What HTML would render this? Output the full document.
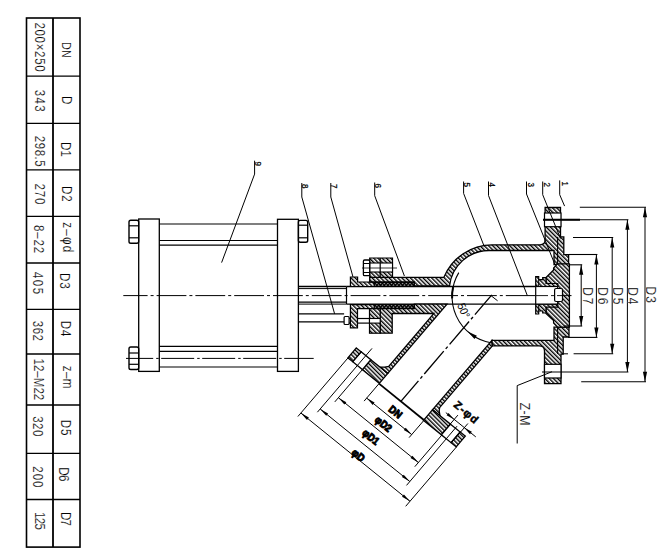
<!DOCTYPE html>
<html><head><meta charset="utf-8"><style>
html,body{margin:0;padding:0;background:#fff;width:670px;height:555px;overflow:hidden}
svg{display:block}
text{font-family:"Liberation Sans",sans-serif}
</style></head><body>
<svg width="670" height="555" viewBox="0 0 670 555">
<defs>
<pattern id="h45" patternUnits="userSpaceOnUse" width="3" height="3" patternTransform="rotate(-45)">
<rect width="3" height="3" fill="#fff"/><rect x="0" y="0" width="1.4" height="3" fill="#000"/></pattern>
<pattern id="pk" patternUnits="userSpaceOnUse" width="2.6" height="2.6" patternTransform="rotate(45)">
<rect width="2.6" height="2.6" fill="#000"/><rect x="0.9" y="0.9" width="1.1" height="1.1" fill="#fff"/></pattern>
</defs>
<rect width="670" height="555" fill="#fff"/>
<g stroke="#000">
<rect x="26.5" y="18" width="53.5" height="529.1" fill="none" stroke-width="1.6"/>
<line x1="53" y1="18" x2="53" y2="547.1" stroke-width="1.8"/>
<line x1="26.5" y1="76.2" x2="80" y2="76.2" stroke-width="1.3"/>
<line x1="26.5" y1="123.3" x2="80" y2="123.3" stroke-width="1.3"/>
<line x1="26.5" y1="169.9" x2="80" y2="169.9" stroke-width="1.3"/>
<line x1="26.5" y1="216.4" x2="80" y2="216.4" stroke-width="1.3"/>
<line x1="26.5" y1="263" x2="80" y2="263" stroke-width="1.3"/>
<line x1="26.5" y1="309.3" x2="80" y2="309.3" stroke-width="1.3"/>
<line x1="26.5" y1="354" x2="80" y2="354" stroke-width="1.3"/>
<line x1="26.5" y1="405" x2="80" y2="405" stroke-width="1.3"/>
<line x1="26.5" y1="453.3" x2="80" y2="453.3" stroke-width="1.3"/>
<line x1="26.5" y1="499.5" x2="80" y2="499.5" stroke-width="1.3"/>
</g>
<g fill="#000" font-family="Liberation Sans, sans-serif">
<text transform="translate(34.7,22.4) rotate(90) scale(0.8,1)" font-size="14.3" textLength="61.6" lengthAdjust="spacing" stroke="#fff" stroke-width="0.18">200×250</text>
<text transform="translate(35.2,89.8) rotate(90) scale(0.8,1)" font-size="14.3" textLength="27.4" lengthAdjust="spacing" stroke="#fff" stroke-width="0.18">343</text>
<text transform="translate(35,135.8) rotate(90) scale(0.8,1)" font-size="14.3" textLength="38.6" lengthAdjust="spacing" stroke="#fff" stroke-width="0.18">298.5</text>
<text transform="translate(35,183.4) rotate(90) scale(0.8,1)" font-size="14.3" textLength="26.2" lengthAdjust="spacing" stroke="#fff" stroke-width="0.18">270</text>
<text transform="translate(34.3,224.9) rotate(90) scale(0.8,1)" font-size="14.3" textLength="35.2" lengthAdjust="spacing" stroke="#fff" stroke-width="0.18">8–22</text>
<text transform="translate(32.8,272.1) rotate(90) scale(0.8,1)" font-size="14.3" textLength="27.4" lengthAdjust="spacing" stroke="#fff" stroke-width="0.18">405</text>
<text transform="translate(33,320.8) rotate(90) scale(0.8,1)" font-size="14.3" textLength="25.1" lengthAdjust="spacing" stroke="#fff" stroke-width="0.18">362</text>
<text transform="translate(34.3,358.5) rotate(90) scale(0.8,1)" font-size="14.3" textLength="52.1" lengthAdjust="spacing" stroke="#fff" stroke-width="0.18">12–M22</text>
<text transform="translate(33,416.2) rotate(90) scale(0.8,1)" font-size="14.3" textLength="25.1" lengthAdjust="spacing" stroke="#fff" stroke-width="0.18">320</text>
<text transform="translate(33,466.3) rotate(90) scale(0.8,1)" font-size="14.3" textLength="26.3" lengthAdjust="spacing" stroke="#fff" stroke-width="0.18">200</text>
<text transform="translate(35,511.9) rotate(90) scale(0.8,1)" font-size="14.3" textLength="22.5" lengthAdjust="spacing" stroke="#fff" stroke-width="0.18">125</text>
<text transform="translate(61.7,41.9) rotate(90) scale(0.8,1)" font-size="13.5" textLength="19.8" lengthAdjust="spacing" stroke="#fff" stroke-width="0.18">DN</text>
<text transform="translate(61.7,96.1) rotate(90) scale(0.8,1)" font-size="14.5" textLength="11.6" lengthAdjust="spacing" stroke="#fff" stroke-width="0.18">D</text>
<text transform="translate(61.4,142.1) rotate(90) scale(0.8,1)" font-size="14.5" textLength="18.3" lengthAdjust="spacing" stroke="#fff" stroke-width="0.18">D1</text>
<text transform="translate(62.4,186.1) rotate(90) scale(0.8,1)" font-size="14.5" textLength="19.5" lengthAdjust="spacing" stroke="#fff" stroke-width="0.18">D2</text>
<text transform="translate(62.9,222.2) rotate(90) scale(0.8,1)" font-size="14.5" textLength="37.5" lengthAdjust="spacing" stroke="#fff" stroke-width="0.18">z–φd</text>
<text transform="translate(59.9,273) rotate(90) scale(0.8,1)" font-size="14.5" textLength="19.6" lengthAdjust="spacing" stroke="#fff" stroke-width="0.18">D3</text>
<text transform="translate(60.8,320.8) rotate(90) scale(0.8,1)" font-size="14.5" textLength="19.5" lengthAdjust="spacing" stroke="#fff" stroke-width="0.18">D4</text>
<text transform="translate(63.4,365.7) rotate(90) scale(0.8,1)" font-size="14.5" textLength="28.5" lengthAdjust="spacing" stroke="#fff" stroke-width="0.18">z–m</text>
<text transform="translate(61,419.8) rotate(90) scale(0.8,1)" font-size="14.5" textLength="19.5" lengthAdjust="spacing" stroke="#fff" stroke-width="0.18">D5</text>
<text transform="translate(59.1,467.3) rotate(90) scale(0.8,1)" font-size="14.5" textLength="17.6" lengthAdjust="spacing" stroke="#fff" stroke-width="0.18">D6</text>
<text transform="translate(60.5,511.9) rotate(90) scale(0.8,1)" font-size="14.5" textLength="17.6" lengthAdjust="spacing" stroke="#fff" stroke-width="0.18">D7</text>
</g>
<g stroke="#000" fill="none" stroke-linecap="butt">
<line x1="123.3" y1="295.6" x2="571.5" y2="295.6" stroke-width="1.0" stroke-dasharray="29.8,3,3,3" stroke-dashoffset="5.5"/>
<line x1="126" y1="358.4" x2="313.7" y2="358.4" stroke-width="1.0" stroke-dasharray="33,3,2.5,2.5" stroke-dashoffset="5.8"/>
<rect x="138.7" y="219" width="20.6" height="152.4" fill="none" stroke-width="1.3"/>
<rect x="277.5" y="219.3" width="20.9" height="152.1" fill="none" stroke-width="1.3"/>
<line x1="159.3" y1="224" x2="277.5" y2="224" stroke-width="1.2"/>
<line x1="159.3" y1="240.5" x2="277.5" y2="240.5" stroke-width="1.2"/>
<line x1="159.3" y1="245.2" x2="277.5" y2="245.2" stroke-width="1.2"/>
<line x1="159.3" y1="346.3" x2="277.5" y2="346.3" stroke-width="1.2"/>
<line x1="159.3" y1="351.3" x2="277.5" y2="351.3" stroke-width="1.2"/>
<line x1="159.3" y1="367" x2="277.5" y2="367" stroke-width="1.2"/>
<rect x="129" y="220.2" width="9.7" height="23" fill="none" stroke-width="1.4" rx="1.8"/>
<line x1="129" y1="225.8" x2="138.7" y2="225.8" stroke-width="1.2"/>
<line x1="129" y1="237.8" x2="138.7" y2="237.8" stroke-width="1.2"/>
<rect x="298.4" y="220.4" width="9.3" height="21.9" fill="none" stroke-width="1.4" rx="1.8"/>
<line x1="298.4" y1="225.2" x2="307.7" y2="225.2" stroke-width="1.2"/>
<line x1="298.4" y1="237.8" x2="307.7" y2="237.8" stroke-width="1.2"/>
<rect x="129" y="347" width="9.7" height="22.5" fill="none" stroke-width="1.4" rx="1.8"/>
<line x1="129" y1="353" x2="138.7" y2="353" stroke-width="1.2"/>
<line x1="129" y1="364.3" x2="138.7" y2="364.3" stroke-width="1.2"/>
<line x1="298.4" y1="286.5" x2="346.5" y2="286.5" stroke-width="1.4"/>
<line x1="298.4" y1="288.6" x2="346.5" y2="288.6" stroke-width="1.0"/>
<line x1="298.4" y1="302.1" x2="346.5" y2="302.1" stroke-width="1.4"/>
<line x1="298.4" y1="304.1" x2="346.5" y2="304.1" stroke-width="1.0"/>
<line x1="346.5" y1="286.5" x2="346.5" y2="304.1" stroke-width="1.2"/>
<line x1="298.4" y1="313.8" x2="344.1" y2="313.8" stroke-width="1.3"/>
<line x1="298.4" y1="321.9" x2="344.1" y2="321.9" stroke-width="1.3"/>
<rect x="344.1" y="316.5" width="5" height="8" fill="none" stroke-width="1.2" rx="1"/>
<line x1="349" y1="318.5" x2="380.2" y2="318.5" stroke-width="1.2"/>
<line x1="349" y1="323.1" x2="380.2" y2="323.1" stroke-width="1.2"/>
<line x1="346.5" y1="286.5" x2="554.7" y2="286.5" stroke-width="1.3"/>
<line x1="346.5" y1="304.1" x2="554.7" y2="304.1" stroke-width="1.3"/>
</g>
<g stroke="#000" stroke-linejoin="miter">
<polygon points="350.4,277 357.6,277 357.6,282 374.3,282 374.3,286.5 350.4,286.5" fill="url(#h45)" stroke-width="1.2"/>
<polygon points="350.4,304.6 374.3,304.6 374.3,308.7 357.5,308.7 357.5,327.9 350.4,327.9" fill="url(#h45)" stroke-width="1.2"/>
<rect x="374.3" y="282" width="40" height="4.5" fill="url(#pk)" stroke-width="1.0"/>
<rect x="374.3" y="304.6" width="40" height="4.1" fill="url(#pk)" stroke-width="1.0"/>
<path d="M369.7,277.3 L443.9,277.3 A52.3,52.3 0 0 1 492.3,244.8 L540,244.8 Q545.1,244.8 545.1,239.5 L545.1,207.5 L560.5,207.5 L560.5,236.9 L563.8,236.9 L563.8,254.7 L568.6,254.7 L568.6,264.5 L554,264.5 L554,250.5 L489,250.5 A39.7,39.7 0 0 0 449.6,285.8 L414.3,285.8 L414.3,282 L369.7,282 Z" fill="url(#h45)" stroke-width="1.3"/>
<rect x="544.5" y="213" width="16.5" height="13.7" fill="#fff" stroke-width="1.2"/>
<polygon points="369.7,258 392.5,258 392.5,277.3 369.7,277.3" fill="url(#h45)" stroke-width="1.2"/>
<rect x="369.7" y="263" width="22.8" height="9" fill="#fff" stroke-width="1.1"/>
<rect x="363.4" y="260" width="6.3" height="15.7" fill="#fff" stroke-width="1.3" rx="1.2"/>
<line x1="363.4" y1="263.5" x2="369.7" y2="263.5" stroke-width="1.0"/>
<line x1="363.4" y1="272.5" x2="369.7" y2="272.5" stroke-width="1.0"/>
<line x1="380.2" y1="258" x2="380.2" y2="277.3" stroke-width="1.2"/>
<line x1="362" y1="268" x2="397" y2="268" stroke-width="0.8"/>
<polygon points="380.2,308.7 414.3,308.7 414.3,304.1 447,304.1 387.8,373.4 380.2,367.2 384.8,367.1 388.7,366.4 433.9,313.5 392.2,313.5 392.2,333.2 380.2,333.2" fill="url(#h45)" stroke-width="1.3"/>
<rect x="369.5" y="308.7" width="10.7" height="24.5" fill="url(#h45)" stroke-width="1.2"/>
<rect x="369.5" y="318.5" width="10.7" height="4.6" fill="#fff" stroke-width="1.1"/>
<polygon points="370.8,359.7 387.8,373.4 379.3,383.3 362.4,369.6" fill="url(#h45)" stroke-width="1.3"/>
<polygon points="361.1,351.8 370.8,359.7 362.4,369.6 352.7,361.7" fill="#fff" stroke-width="1.3"/>
<polygon points="356.3,347.9 361.1,351.8 352.7,361.7 347.9,357.8" fill="url(#h45)" stroke-width="1.3"/>
<polygon points="491.9,340.3 432.6,409.7 440,415.7 439.2,411.2 439.6,407.7 492.4,345.9" fill="url(#h45)" stroke-width="1.3"/>
<polygon points="432.6,409.7 450.5,424.2 441.4,434.8 423.5,420.3" fill="url(#h45)" stroke-width="1.3"/>
<polygon points="450.5,424.2 460.2,432 451.1,442.7 441.4,434.8" fill="#fff" stroke-width="1.3"/>
<polygon points="460.2,432 465.3,436.1 456.2,446.8 451.1,442.7" fill="url(#h45)" stroke-width="1.3"/>
<path d="M491.9,340.3 L554,340.3 L554,327.2 L569,327.2 L569,337 L563.2,337 L563.2,354.2 L561,354.2 L561,383.7 L544.5,383.7 L544.5,351 Q544.5,345.9 539,345.9 L492.4,345.9 Z" fill="url(#h45)" stroke-width="1.3"/>
<rect x="544.5" y="364.3" width="16.5" height="13.7" fill="#fff" stroke-width="1.2"/>
<line x1="557.6" y1="237" x2="557.6" y2="263.8" stroke-width="1.1"/>
<line x1="557.6" y1="327.2" x2="557.6" y2="354" stroke-width="1.1"/>
<polygon points="557.5,263.8 569.4,263.8 569.4,327.1 557.5,327.1 553.6,323 553.6,320.5 546,313.5 546,277.5 553.6,270 553.6,268" fill="url(#h45)" stroke-width="1.3"/>
<polygon points="535.7,276.6 538.7,276.6 538.7,279.6 542.7,279.6 542.7,277.6 546,277.6 546,283.5 557.8,283.5 557.8,286.5 535.7,286.5" fill="url(#h45)" stroke-width="1.2"/>
<line x1="538.7" y1="279.6" x2="538.7" y2="286.5" stroke-width="1.0"/>
<polygon points="535.7,314 538.7,314 538.7,311 542.7,311 542.7,313 546,313 546,307.1 557.8,307.1 557.8,304.1 535.7,304.1" fill="url(#h45)" stroke-width="1.2"/>
<line x1="538.7" y1="311" x2="538.7" y2="304.1" stroke-width="1.0"/>
<rect x="535.7" y="286.5" width="22" height="17.6" fill="#fff" stroke-width="1.2"/>
<rect x="554.6" y="288.5" width="7.9" height="13" fill="#fff" stroke-width="1.2" rx="1.5"/>
<line x1="536" y1="295.6" x2="571.5" y2="295.6" stroke-width="0.9" stroke-dasharray="12,3,3,3"/>
</g>
<g stroke="#000" fill="none">
<line x1="491.8" y1="294.9" x2="400.9" y2="401.4" stroke-width="1.35" stroke-dasharray="30,3,3,3" stroke-dashoffset="4"/>
<line x1="491.2" y1="295.8" x2="497.6" y2="300.8" stroke-width="1.0"/>
<path d="M458.8,272.6 A46.8,46.8 0 0 0 490.8,342.8" stroke-width="1.1"/>
<path d="M453.1,287 A46.8,46.8 0 0 0 452.1,298.4" stroke-width="2"/>
</g><g fill="#000" stroke="none">
<polygon points="467.6,331.5 474.5,339 476.9,335.8" fill="#000" stroke-width="0.5"/>
</g><g stroke="#000" fill="none">
<line x1="348" y1="357.9" x2="297.9" y2="416.5" stroke-width="1.0"/>
<line x1="372" y1="348.4" x2="317.4" y2="412.2" stroke-width="1.0"/>
<line x1="362.4" y1="369.6" x2="334.8" y2="401.9" stroke-width="1.0"/>
<line x1="379.3" y1="383.3" x2="364.1" y2="401.1" stroke-width="1.0"/>
<line x1="456.4" y1="447" x2="405.7" y2="506.3" stroke-width="1.0"/>
<line x1="457" y1="426.2" x2="406.5" y2="485.4" stroke-width="1.0"/>
<line x1="441.8" y1="435.1" x2="414.8" y2="466.7" stroke-width="1.0"/>
<line x1="423.8" y1="420.5" x2="409.1" y2="437.6" stroke-width="1.0"/>
<line x1="300.9" y1="413" x2="410" y2="501.3" stroke-width="1.0"/>
<line x1="320.2" y1="409" x2="409.8" y2="481.5" stroke-width="1.0"/>
<line x1="338.4" y1="397.7" x2="418.4" y2="462.5" stroke-width="1.0"/>
<line x1="366.7" y1="398.1" x2="411.7" y2="434.6" stroke-width="1.0"/>
</g>
<g fill="#000" stroke="none">
<polygon points="300.9,413 307,419.9 308.9,417.5" fill="#000" stroke-width="0.5"/>
<polygon points="410,501.3 403.9,494.5 402,496.8" fill="#000" stroke-width="0.5"/>
<polygon points="320.2,409 326.2,415.8 328.1,413.5" fill="#000" stroke-width="0.5"/>
<polygon points="409.8,481.5 403.7,474.7 401.9,477" fill="#000" stroke-width="0.5"/>
<polygon points="338.4,397.7 344.4,404.5 346.3,402.2" fill="#000" stroke-width="0.5"/>
<polygon points="418.4,462.5 412.4,455.7 410.5,458" fill="#000" stroke-width="0.5"/>
<polygon points="366.7,398.1 372.7,404.9 374.6,402.6" fill="#000" stroke-width="0.5"/>
<polygon points="411.7,434.6 405.7,427.8 403.8,430.1" fill="#000" stroke-width="0.5"/>
</g>
<g stroke="#000" fill="none">
<line x1="457.9" y1="415.1" x2="441.2" y2="434.6" stroke-width="1.0"/>
<line x1="467.9" y1="423.5" x2="451.3" y2="442.9" stroke-width="1.0"/>
<line x1="445.8" y1="412.6" x2="475.8" y2="436.9" stroke-width="1.0"/>
</g>
<g fill="#000" stroke="none">
<polygon points="454.2,419.4 448.5,412.9 446.6,415.2" fill="#000" stroke-width="0.5"/>
<polygon points="464.3,427.7 470,434.2 471.9,431.8" fill="#000" stroke-width="0.5"/>
</g>
<g stroke="#000" fill="none">
<line x1="379" y1="383.6" x2="423.9" y2="420" stroke-width="1.8"/>
</g>
<g fill="#000" stroke="#000" stroke-width="1" font-family="Liberation Serif, serif">
<text transform="translate(395.7,411.6) rotate(39)" font-size="10.5" font-weight="bold" text-anchor="middle" dominant-baseline="central" textLength="13.7" lengthAdjust="spacingAndGlyphs">DN</text>
<text transform="translate(383.7,423.7) rotate(39)" font-size="10.5" font-weight="bold" text-anchor="middle" dominant-baseline="central" textLength="18.3" lengthAdjust="spacingAndGlyphs">φD2</text>
<text transform="translate(371,436.7) rotate(39)" font-size="10.5" font-weight="bold" text-anchor="middle" dominant-baseline="central" textLength="18.3" lengthAdjust="spacingAndGlyphs">φD1</text>
<text transform="translate(358.5,455) rotate(39)" font-size="10.5" font-weight="bold" text-anchor="middle" dominant-baseline="central" textLength="13.7" lengthAdjust="spacingAndGlyphs">φD</text>
</g><g fill="#000" stroke="#000" stroke-width="0.5" font-family="Liberation Serif, serif">
<text transform="translate(466.3,411.9) rotate(40)" font-size="11" font-weight="bold" text-anchor="middle" dominant-baseline="central" textLength="28" lengthAdjust="spacing">Z-φd</text>
</g>
<g fill="#000" font-family="Liberation Sans, sans-serif">
<text transform="translate(463.7,310.6) rotate(67)" font-size="11.5" font-weight="normal" text-anchor="middle" dominant-baseline="central" textLength="15" lengthAdjust="spacingAndGlyphs">50°</text>
</g>
<g stroke="#000" fill="none">
<line x1="645" y1="207.3" x2="645" y2="381.7" stroke-width="1.0"/>
<line x1="579.8" y1="207.3" x2="646" y2="207.3" stroke-width="1.1"/>
<line x1="581.2" y1="381.7" x2="646" y2="381.7" stroke-width="1.1"/>
<line x1="627.4" y1="219.8" x2="627.4" y2="372" stroke-width="1.0"/>
<line x1="543" y1="219.8" x2="628.4" y2="219.8" stroke-width="1.1"/>
<line x1="542" y1="372" x2="628.4" y2="372" stroke-width="1.1"/>
<line x1="612.2" y1="237.5" x2="612.2" y2="353.8" stroke-width="1.0"/>
<line x1="573" y1="237.5" x2="613.2" y2="237.5" stroke-width="1.1"/>
<line x1="573.6" y1="353.8" x2="613.2" y2="353.8" stroke-width="1.1"/>
<line x1="596.4" y1="254.5" x2="596.4" y2="337.4" stroke-width="1.0"/>
<line x1="569" y1="254.5" x2="597.4" y2="254.5" stroke-width="1.1"/>
<line x1="568" y1="337.4" x2="597.4" y2="337.4" stroke-width="1.1"/>
<line x1="581.2" y1="264.8" x2="581.2" y2="326" stroke-width="1.0"/>
<line x1="569" y1="264.8" x2="582.2" y2="264.8" stroke-width="1.1"/>
<line x1="564" y1="326" x2="582.2" y2="326" stroke-width="1.1"/>
<line x1="562" y1="353.8" x2="568" y2="353.8" stroke-width="1.0"/>
<line x1="543" y1="219.8" x2="580" y2="219.8" stroke-width="1.9"/>
</g>
<g fill="#000" stroke="none">
<polygon points="645,207.3 642.9,217.3 647.1,217.3" fill="#000" stroke-width="0.5"/>
<polygon points="645,381.7 647.1,371.7 642.9,371.7" fill="#000" stroke-width="0.5"/>
<polygon points="627.4,219.8 625.3,229.8 629.5,229.8" fill="#000" stroke-width="0.5"/>
<polygon points="627.4,372 629.5,362 625.3,362" fill="#000" stroke-width="0.5"/>
<polygon points="612.2,237.5 610.1,247.5 614.3,247.5" fill="#000" stroke-width="0.5"/>
<polygon points="612.2,353.8 614.3,343.8 610.1,343.8" fill="#000" stroke-width="0.5"/>
<polygon points="596.4,254.5 594.3,264.5 598.5,264.5" fill="#000" stroke-width="0.5"/>
<polygon points="596.4,337.4 598.5,327.4 594.3,327.4" fill="#000" stroke-width="0.5"/>
<polygon points="581.2,264.8 579.1,274.8 583.3,274.8" fill="#000" stroke-width="0.5"/>
<polygon points="581.2,326 583.3,316 579.1,316" fill="#000" stroke-width="0.5"/>
</g>
<g fill="#000" font-family="Liberation Sans, sans-serif">
<text transform="translate(583.1,287.3) rotate(90) scale(0.8,1)" font-size="15" textLength="21.4" lengthAdjust="spacing" stroke="#fff" stroke-width="0.18">D7</text>
<text transform="translate(597.5,287.3) rotate(90) scale(0.8,1)" font-size="15" textLength="21.5" lengthAdjust="spacing" stroke="#fff" stroke-width="0.18">D6</text>
<text transform="translate(613,287.3) rotate(90) scale(0.8,1)" font-size="15" textLength="21.5" lengthAdjust="spacing" stroke="#fff" stroke-width="0.18">D5</text>
<text transform="translate(628,287.3) rotate(90) scale(0.8,1)" font-size="15" textLength="21.5" lengthAdjust="spacing" stroke="#fff" stroke-width="0.18">D4</text>
<text transform="translate(645.6,286.6) rotate(90) scale(0.8,1)" font-size="15" textLength="20.5" lengthAdjust="spacing" stroke="#fff" stroke-width="0.18">D3</text>
<text transform="translate(520.4,402.5) rotate(90) scale(0.8,1)" font-size="15.5" textLength="28.8" lengthAdjust="spacing" stroke="#fff" stroke-width="0.18">Z-M</text>
</g>
<g stroke="#000" fill="none">
<polyline points="552,371.7 517.2,385.6 517.2,443.5" fill="none" stroke-width="1.0"/>
<polyline points="254.6,160.7 254.6,174.1 221.6,262.6" fill="none" stroke-width="1.0"/>
<polyline points="301.8,183 301.8,197 334.6,313.8" fill="none" stroke-width="1.0"/>
<polyline points="330.8,183 330.8,197 353,277" fill="none" stroke-width="1.0"/>
<polyline points="374.7,182.5 374.7,195.7 404.4,276" fill="none" stroke-width="1.0"/>
<polyline points="463.6,181.5 463.6,193.4 484.2,246.4" fill="none" stroke-width="1.0"/>
<polyline points="488.5,181.5 488.5,195.5 527.3,295.5" fill="none" stroke-width="1.0"/>
<polyline points="526.5,181.5 526.5,194 554.9,264.5" fill="none" stroke-width="1.0"/>
<polyline points="542.7,181.5 542.7,194.7 560.5,238.5" fill="none" stroke-width="1.0"/>
<polyline points="559.7,180.4 559.7,194.7 564.6,206.1" fill="none" stroke-width="1.0"/>
</g>
<g fill="#000" font-family="Liberation Sans, sans-serif">
<text transform="translate(255.2,161.5) rotate(90) scale(0.9,1)" font-size="9" textLength="6.1" lengthAdjust="spacing" stroke="#000" stroke-width="0.25">9</text>
<text transform="translate(302.2,184) rotate(90) scale(0.9,1)" font-size="9" textLength="6.1" lengthAdjust="spacing" stroke="#000" stroke-width="0.25">8</text>
<text transform="translate(331.2,184) rotate(90) scale(0.9,1)" font-size="9" textLength="6.1" lengthAdjust="spacing" stroke="#000" stroke-width="0.25">7</text>
<text transform="translate(375.2,183.5) rotate(90) scale(0.9,1)" font-size="9" textLength="6.1" lengthAdjust="spacing" stroke="#000" stroke-width="0.25">6</text>
<text transform="translate(464.2,182.5) rotate(90) scale(0.9,1)" font-size="9" textLength="6.1" lengthAdjust="spacing" stroke="#000" stroke-width="0.25">5</text>
<text transform="translate(489.2,182.5) rotate(90) scale(0.9,1)" font-size="9" textLength="6.1" lengthAdjust="spacing" stroke="#000" stroke-width="0.25">4</text>
<text transform="translate(528,182.5) rotate(90) scale(0.9,1)" font-size="9" textLength="6.1" lengthAdjust="spacing" stroke="#000" stroke-width="0.25">3</text>
<text transform="translate(544.2,182.5) rotate(90) scale(0.9,1)" font-size="9" textLength="6.1" lengthAdjust="spacing" stroke="#000" stroke-width="0.25">2</text>
<text transform="translate(561.7,181.4) rotate(90) scale(0.9,1)" font-size="9" textLength="6.1" lengthAdjust="spacing" stroke="#000" stroke-width="0.25">1</text>
</g>
</svg></body></html>
